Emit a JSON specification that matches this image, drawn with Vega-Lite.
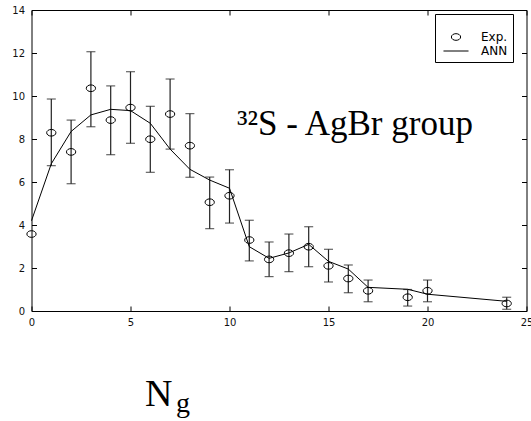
{
  "$schema": "https://vega.github.io/schema/vega-lite/v6.json",
  "width": 495,
  "height": 301,
  "autosize": "none",
  "padding": {"left": 31.5, "top": 10, "right": 4.5, "bottom": 110},
  "background": "white",
  "config": {
    "view": {"stroke": "#000", "strokeWidth": 1},
    "axis": {"grid": false, "domain": false, "tickColor": "#000", "tickSize": -5, "tickWidth": 1, "labelFont": "DejaVu Sans", "labelFontSize": 10, "labelColor": "#111"}
  },
  "datasets": {
    "exp": [
      {"N": 0, "exp": 3.58, "lo": null, "hi": null, "series": "Exp."},
      {"N": 1, "exp": 8.29, "lo": 6.76, "hi": 9.86, "series": "Exp."},
      {"N": 2, "exp": 7.40, "lo": 5.92, "hi": 8.88, "series": "Exp."},
      {"N": 3, "exp": 10.36, "lo": 8.57, "hi": 12.06, "series": "Exp."},
      {"N": 4, "exp": 8.88, "lo": 7.27, "hi": 10.47, "series": "Exp."},
      {"N": 5, "exp": 9.46, "lo": 7.80, "hi": 11.13, "series": "Exp."},
      {"N": 6, "exp": 7.99, "lo": 6.45, "hi": 9.52, "series": "Exp."},
      {"N": 7, "exp": 9.16, "lo": 7.53, "hi": 10.79, "series": "Exp."},
      {"N": 8, "exp": 7.69, "lo": 6.22, "hi": 9.18, "series": "Exp."},
      {"N": 9, "exp": 5.06, "lo": 3.83, "hi": 6.23, "series": "Exp."},
      {"N": 10, "exp": 5.36, "lo": 4.09, "hi": 6.57, "series": "Exp."},
      {"N": 11, "exp": 3.30, "lo": 2.33, "hi": 4.22, "series": "Exp."},
      {"N": 12, "exp": 2.40, "lo": 1.60, "hi": 3.21, "series": "Exp."},
      {"N": 13, "exp": 2.69, "lo": 1.83, "hi": 3.58, "series": "Exp."},
      {"N": 14, "exp": 2.99, "lo": 2.06, "hi": 3.92, "series": "Exp."},
      {"N": 15, "exp": 2.10, "lo": 1.35, "hi": 2.87, "series": "Exp."},
      {"N": 16, "exp": 1.51, "lo": 0.85, "hi": 2.14, "series": "Exp."},
      {"N": 17, "exp": 0.94, "lo": 0.43, "hi": 1.44, "series": "Exp."},
      {"N": 19, "exp": 0.64, "lo": 0.23, "hi": 1.00, "series": "Exp."},
      {"N": 20, "exp": 0.94, "lo": 0.43, "hi": 1.44, "series": "Exp."},
      {"N": 24, "exp": 0.35, "lo": 0.08, "hi": 0.64, "series": "Exp."}
    ],
    "ann": [
      {"N": 0, "ann": 4.2}, {"N": 1, "ann": 6.85}, {"N": 2, "ann": 8.35}, {"N": 3, "ann": 9.12},
      {"N": 4, "ann": 9.38}, {"N": 5, "ann": 9.32}, {"N": 6, "ann": 8.73}, {"N": 7, "ann": 7.53},
      {"N": 8, "ann": 6.59}, {"N": 9, "ann": 6.09}, {"N": 10, "ann": 5.71}, {"N": 11, "ann": 2.99},
      {"N": 12, "ann": 2.45}, {"N": 13, "ann": 2.7}, {"N": 14, "ann": 3.1}, {"N": 15, "ann": 2.31},
      {"N": 16, "ann": 1.95}, {"N": 17, "ann": 1.1}, {"N": 19, "ann": 1.01}, {"N": 20, "ann": 0.78},
      {"N": 24, "ann": 0.45}
    ],
    "note": [{"label": "³²S - AgBr group", "N": 10.38, "v": 8.19}],
    "titleN": [{"label": "N", "N": 5.73, "v": -4.44}],
    "titleG": [{"label": "g", "N": 7.3, "v": -4.70}]
  },
  "layer": [
    {
      "data": {"name": "exp"},
      "transform": [{"filter": "datum.lo != null"}],
      "mark": {"type": "rule", "color": "#222", "strokeWidth": 1.2},
      "encoding": {
        "x": {"field": "N", "type": "quantitative", "scale": {"domain": [0, 25], "nice": false},
              "axis": {"orient": "bottom", "values": [0, 5, 10, 15, 20, 25], "labelPadding": 11, "labelFlush": false, "title": null}},
        "y": {"field": "lo", "type": "quantitative", "scale": {"domain": [0, 14], "nice": false},
              "axis": {"orient": "left", "values": [0, 2, 4, 6, 8, 10, 12, 14], "labelPadding": 12, "title": null}},
        "y2": {"field": "hi"}
      }
    },
    {
      "data": {"name": "exp"},
      "transform": [{"filter": "datum.lo != null"}],
      "mark": {"type": "tick", "orient": "horizontal", "color": "#222", "size": 9, "thickness": 1.2},
      "encoding": {
        "x": {"field": "N", "type": "quantitative", "scale": {"domain": [0, 25], "nice": false}, "axis": null},
        "y": {"field": "lo", "type": "quantitative", "scale": {"domain": [0, 14], "nice": false}, "axis": null}
      }
    },
    {
      "data": {"name": "exp"},
      "transform": [{"filter": "datum.lo != null"}],
      "mark": {"type": "tick", "orient": "horizontal", "color": "#222", "size": 9, "thickness": 1.2},
      "encoding": {
        "x": {"field": "N", "type": "quantitative", "scale": {"domain": [0, 25], "nice": false}, "axis": null},
        "y": {"field": "hi", "type": "quantitative", "scale": {"domain": [0, 14], "nice": false}, "axis": null}
      }
    },
    {
      "data": {"name": "ann"},
      "mark": {"type": "line", "color": "#000", "strokeWidth": 1},
      "encoding": {
        "x": {"field": "N", "type": "quantitative", "scale": {"domain": [0, 25], "nice": false},
              "axis": {"orient": "top", "values": [0, 5, 10, 15, 20, 25], "labels": false, "title": null}},
        "y": {"field": "ann", "type": "quantitative", "scale": {"domain": [0, 14], "nice": false},
              "axis": {"orient": "right", "values": [0, 2, 4, 6, 8, 10, 12, 14], "labels": false, "title": null}}
      }
    },
    {
      "data": {"name": "exp"},
      "mark": {"type": "point", "filled": false, "color": "#000", "strokeWidth": 1, "size": 86, "opacity": 1},
      "encoding": {
        "x": {"field": "N", "type": "quantitative", "scale": {"domain": [0, 25], "nice": false}, "axis": null},
        "y": {"field": "exp", "type": "quantitative", "scale": {"domain": [0, 14], "nice": false}, "axis": null},
        "shape": {"field": "series", "type": "nominal",
          "scale": {"domain": ["Exp.", "ANN"], "range": ["M-1,0C-1,-0.3977,-0.5523,-0.72,0,-0.72C0.5523,-0.72,1,-0.3977,1,0C1,0.3977,0.5523,0.72,0,0.72C-0.5523,0.72,-1,0.3977,-1,0Z", "M-2.7,0H2.7"]},
          "legend": {"title": " ", "orient": "none", "legendX": 403.5, "legendY": 4, "strokeColor": "#000", "fillColor": "#fff", "padding": 5, "symbolSize": 86, "symbolStrokeColor": "#000", "symbolStrokeWidth": 1, "symbolOffset": 10, "labelOffset": 19, "labelFont": "DejaVu Sans", "labelFontSize": 12, "labelColor": "#000", "rowPadding": 2, "titleFontSize": 10, "titlePadding": 2, "cornerRadius": 0}}
      }
    },
    {
      "data": {"name": "note"},
      "mark": {"type": "text", "font": "Liberation Serif", "fontSize": 35, "align": "left", "baseline": "alphabetic", "color": "#000"},
      "encoding": {
        "x": {"field": "N", "type": "quantitative", "scale": {"domain": [0, 25], "nice": false}, "axis": null},
        "y": {"field": "v", "type": "quantitative", "scale": {"domain": [0, 14], "nice": false}, "axis": null},
        "text": {"field": "label"}
      }
    },
    {
      "data": {"name": "titleN"},
      "mark": {"type": "text", "font": "Liberation Serif", "fontSize": 38, "align": "left", "baseline": "alphabetic", "color": "#000"},
      "encoding": {
        "x": {"field": "N", "type": "quantitative", "scale": {"domain": [0, 25], "nice": false}, "axis": null},
        "y": {"field": "v", "type": "quantitative", "scale": {"domain": [0, 14], "nice": false}, "axis": null},
        "text": {"field": "label"}
      }
    },
    {
      "data": {"name": "titleG"},
      "mark": {"type": "text", "font": "Liberation Serif", "fontSize": 28, "align": "left", "baseline": "alphabetic", "color": "#000"},
      "encoding": {
        "x": {"field": "N", "type": "quantitative", "scale": {"domain": [0, 25], "nice": false}, "axis": null},
        "y": {"field": "v", "type": "quantitative", "scale": {"domain": [0, 14], "nice": false}, "axis": null},
        "text": {"field": "label"}
      }
    }
  ],
  "resolve": {"axis": {"x": "independent", "y": "independent"}}
}
